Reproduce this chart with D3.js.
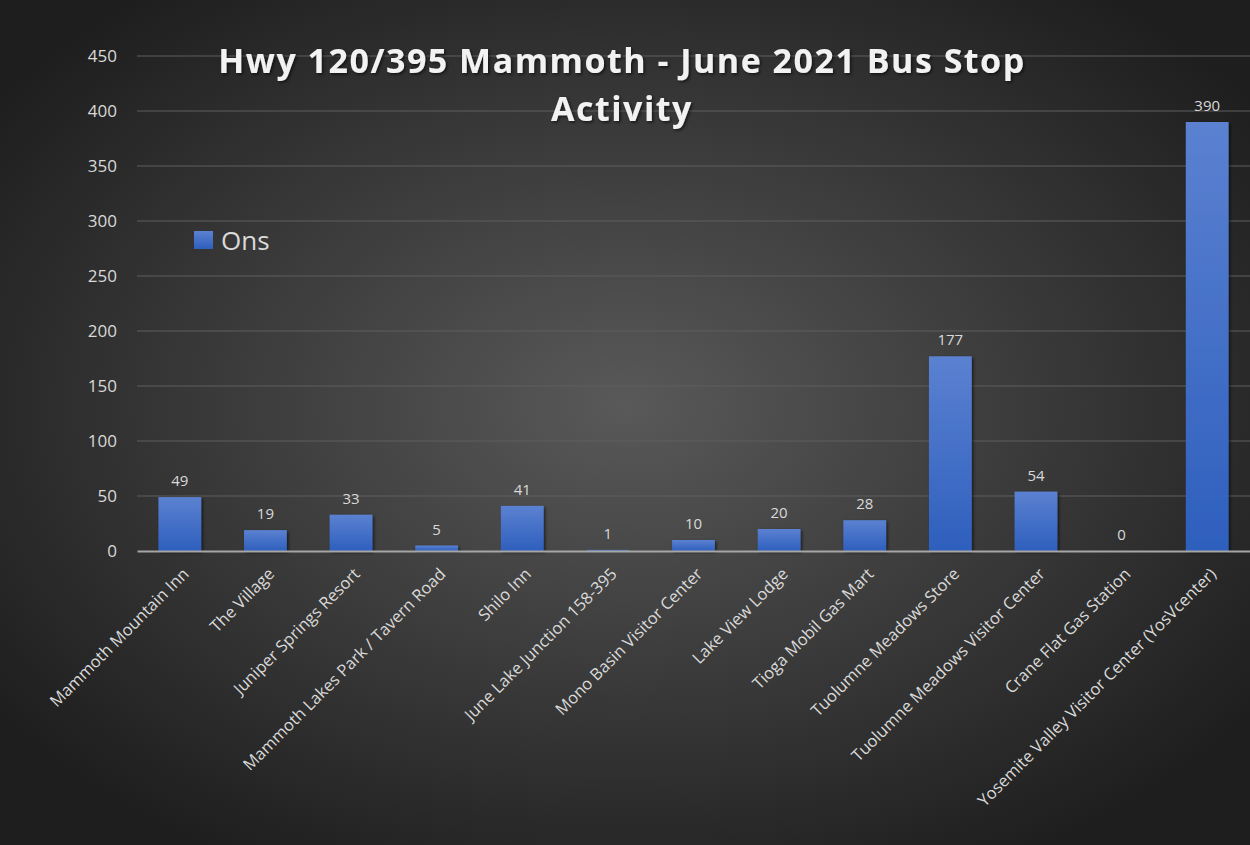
<!DOCTYPE html>
<html>
<head>
<meta charset="utf-8">
<script src="https://cdn.jsdelivr.net/npm/d3@7"></script>
<style>
  html, body { margin: 0; padding: 0; background: #262626; }
  svg { display: block; }
</style>
</head>
<body>
<div id="chart"></div>
<script>
// data
const stops = [
  "Mammoth Mountain Inn", "The Village", "Juniper Springs Resort",
  "Mammoth Lakes Park / Tavern Road", "Shilo Inn", "June Lake Junction 158-395",
  "Mono Basin Visitor Center", "Lake View Lodge", "Tioga Mobil Gas Mart",
  "Tuolumne Meadows Store", "Tuolumne Meadows Visitor Center",
  "Crane Flat Gas Station", "Yosemite Valley Visitor Center (YosVcenter)"
];
const ons = [49, 19, 33, 5, 41, 1, 10, 20, 28, 177, 54, 0, 390];
const yTicks = [0, 50, 100, 150, 200, 250, 300, 350, 400, 450];
const seriesName = "Ons";
const titleLines = ["Hwy 120/395 Mammoth - June 2021 Bus Stop", "Activity"];

const W = 1250, H = 845;
const margin = {top: 56, left: 137, right: 0, bottom: 294};
const width = W - margin.left - margin.right,
      height = H - margin.top - margin.bottom;

const svg = d3.select('#chart')
  .append('svg')
  .attr('width', W)
  .attr('height', H)
  .attr('viewBox', [0, 0, W, H].join(' '))
  .style('font-family', '"Open Sans", sans-serif');

const defs = svg.append('defs');

// background radial gradient
const bg = defs.append('radialGradient')
  .attr('id', 'bg')
  .attr('cx', '50%').attr('cy', '48%').attr('r', '62%');
bg.append('stop').attr('offset', '0%').attr('stop-color', '#595959');
bg.append('stop').attr('offset', '100%').attr('stop-color', '#1e1e1e');

// bar gradient
const barGrad = defs.append('linearGradient')
  .attr('id', 'barGrad')
  .attr('x1', 0).attr('y1', 0).attr('x2', 0).attr('y2', 1);
barGrad.append('stop').attr('offset', '0%').attr('stop-color', '#5b81d1');
barGrad.append('stop').attr('offset', '100%').attr('stop-color', '#2e5fbd');

const shadow = defs.append('filter').attr('id', 'shadow')
  .attr('x', '-10%').attr('y', '-10%').attr('width', '130%').attr('height', '130%');
shadow.append('feDropShadow')
  .attr('dx', 1.5).attr('dy', 1.5).attr('stdDeviation', 1.5)
  .attr('flood-color', '#000').attr('flood-opacity', 0.6);

svg.append('rect')
  .attr('width', W).attr('height', H)
  .attr('fill', 'url(#bg)');

const g = svg.append('g')
  .attr('transform', `translate(${margin.left},${margin.top})`);

// scales
const x = d3.scaleBand().domain(stops).range([0, width]).paddingInner(0.5).paddingOuter(0.25);
const y = d3.scaleLinear().domain([0, 450]).range([height, 0]);

// gridlines
g.append('g')
  .selectAll('line')
  .data(yTicks.filter(d => d > 0))
  .join('line')
  .attr('x1', 0).attr('x2', width)
  .attr('y1', d => y(d)).attr('y2', d => y(d))
  .attr('stroke', '#5e5e5e')
  .attr('stroke-width', 1);

// y axis
const yAxis = g.append('g')
  .call(d3.axisLeft(y).tickValues(yTicks).tickSize(0).tickPadding(20));
yAxis.select('.domain').remove();
yAxis.selectAll('text')
  .attr('fill', '#d9d9d9')
  .style('font-size', '17px')
  .style('font-family', '"Open Sans", sans-serif');

// bars
g.append('g')
  .selectAll('rect')
  .data(stops)
  .join('rect')
  .attr('x', d => x(d))
  .attr('y', (d, i) => y(ons[i]))
  .attr('width', x.bandwidth())
  .attr('height', (d, i) => y(0) - y(ons[i]))
  .attr('fill', 'url(#barGrad)')
  .attr('filter', 'url(#shadow)');

// value labels
g.append('g')
  .selectAll('text')
  .data(stops)
  .join('text')
  .attr('x', d => x(d) + x.bandwidth() / 2)
  .attr('y', (d, i) => y(ons[i]) - 11)
  .attr('text-anchor', 'middle')
  .attr('fill', '#d9d9d9')
  .style('font-size', '15px')
  .text((d, i) => ons[i]);

// x axis
const xAxis = g.append('g')
  .attr('transform', `translate(0,${height})`)
  .call(d3.axisBottom(x).tickSize(0).tickPadding(0));
xAxis.select('.domain')
  .attr('stroke', '#a6a6a6')
  .attr('stroke-width', 2);
xAxis.selectAll('text')
  .attr('fill', '#d9d9d9')
  .style('font-size', '16.5px')
  .style('font-family', '"Open Sans", sans-serif')
  .attr('text-anchor', 'end')
  .attr('dy', null)
  .attr('y', 0)
  .attr('transform', `translate(10,24) rotate(-45)`);

// legend
const legend = svg.append('g').attr('transform', 'translate(194,231)');
legend.append('rect')
  .attr('width', 19).attr('height', 18)
  .attr('fill', 'url(#barGrad)');
legend.append('text')
  .attr('x', 27).attr('y', 19)
  .attr('fill', '#d9d9d9')
  .style('font-size', '26px')
  .text(seriesName);

// title
svg.append('g')
  .selectAll('text')
  .data(titleLines)
  .join('text')
  .attr('x', 622)
  .attr('y', (d, i) => 73 + i * 48)
  .attr('text-anchor', 'middle')
  .attr('fill', '#f2f2f2')
  .attr('filter', 'url(#shadow)')
  .style('font-size', '34px')
  .style('font-weight', 'bold')
  .style('letter-spacing', '1.5px')
  .text(d => d);
</script>
</body>
</html>
